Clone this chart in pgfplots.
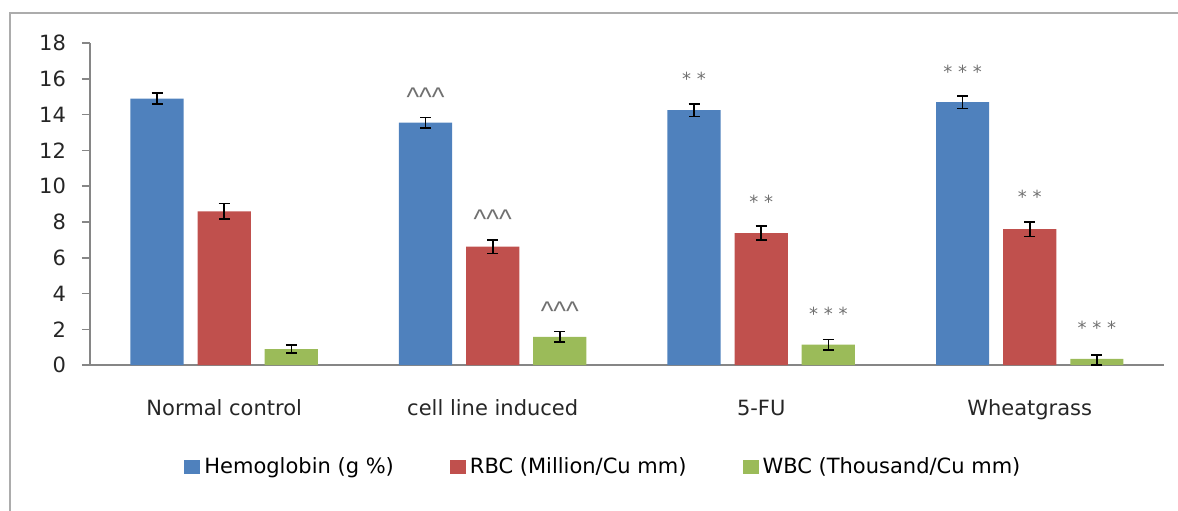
\documentclass[border=0pt]{standalone}
\usepackage{fontspec}
\setmainfont{DejaVu Sans}
\newfontfamily\libsans{Liberation Sans}
\usepackage{pgfplots}
\pgfplotsset{compat=1.18}
\definecolor{cblue}{HTML}{4F81BD}
\definecolor{cred}{HTML}{C0504D}
\definecolor{cgreen}{HTML}{9BBB59}
\definecolor{axgray}{HTML}{868686}
\definecolor{anngray}{HTML}{707070}
\tikzset{
  ann/.style={font=\fontsize{9}{10}\selectfont, text=anngray},
  car/.style={font=\libsans\fontsize{13.5}{13.5}\selectfont, text=anngray},
}
\begin{document}
\begin{tikzpicture}[x=1pt,y=1pt]
\begin{axis}[
  at={(33.5,81)}, anchor=south west,
  scale only axis, width=537pt, height=161pt,
  xmin=-0.5, xmax=3.5, ymin=0, ymax=18,
  ytick={0,2,...,18},
  xtick={0,1,2,3},
  xticklabels={Normal control, cell line induced, 5-FU, Wheatgrass},
  axis x line*=bottom, axis y line*=left,
  axis line style={axgray, line width=0.8pt},
  x axis line style={-}, y axis line style={-},
  major x tick style={draw=none},
  major y tick style={axgray, line width=0.8pt},
  tick align=outside, major tick length=4pt,
  font=\fontsize{10.5}{12}\selectfont,
  /pgf/number format/assume math mode=true,
  x tick label style={anchor=base, yshift=-21pt, text=black!85},
  y tick label style={text=black!85, xshift=-4.5pt},
  every axis plot/.append style={draw=none},
  legend style={at={(0.479,-0.3168)}, anchor=center, draw=none,
    legend columns=3, font=\fontsize{10.5}{12}\selectfont,
    /tikz/every even column/.append style={column sep=26pt},
    /tikz/every odd column/.append style={column sep=0pt}},
  legend image code/.code={\fill[#1] (0pt,-3.5pt) rectangle (8pt,3.5pt);},
]
\addplot[ybar, bar width=0.198, bar shift=0, fill=cblue,
  error bars/.cd, y dir=both, y explicit,
  error bar style={black, line width=0.8pt},
  error mark options={rotate=90, mark size=2.75pt, black, line width=0.8pt}]
  table[x=x, y=y, y error plus=ep, y error minus=em] {
x y ep em
-0.25 14.9 0.3 0.3
0.75 13.55 0.3 0.3
1.75 14.25 0.35 0.35
2.75 14.7 0.35 0.35
};
\addlegendentry{Hemoglobin (g \%)}
\addplot[ybar, bar width=0.198, bar shift=0, fill=cred,
  error bars/.cd, y dir=both, y explicit,
  error bar style={black, line width=0.8pt},
  error mark options={rotate=90, mark size=2.75pt, black, line width=0.8pt}]
  table[x=x, y=y, y error plus=ep, y error minus=em] {
x y ep em
0 8.6 0.44 0.44
1 6.62 0.38 0.38
2 7.38 0.4 0.4
3 7.6 0.4 0.4
};
\addlegendentry{RBC (Million/Cu mm)}
\addplot[ybar, bar width=0.198, bar shift=0, fill=cgreen,
  error bars/.cd, y dir=both, y explicit,
  error bar style={black, line width=0.8pt},
  error mark options={rotate=90, mark size=2.75pt, black, line width=0.8pt}]
  table[x=x, y=y, y error plus=ep, y error minus=em] {
x y ep em
0.25 0.9 0.22 0.22
1.25 1.58 0.3 0.3
2.25 1.14 0.3 0.3
3.25 0.35 0.2 0.35
};
\addlegendentry{WBC (Thousand/Cu mm)}
\node[car] at (axis cs:0.75,15.0) {\textasciicircum\textasciicircum\textasciicircum};
\node[car] at (axis cs:1,8.13) {\textasciicircum\textasciicircum\textasciicircum};
\node[car] at (axis cs:1.25,3.04) {\textasciicircum\textasciicircum\textasciicircum};
\node[ann] at (axis cs:1.75,15.98) {* *};
\node[ann] at (axis cs:2,9.11) {* *};
\node[ann] at (axis cs:2.25,2.85) {* * *};
\node[ann] at (axis cs:2.75,16.42) {* * *};
\node[ann] at (axis cs:3,9.39) {* *};
\node[ann] at (axis cs:3.25,2.07) {* * *};
\end{axis}
\draw[gray!65, line width=1pt] (4.75,-10) -- (4.75,248.5) -- (600,248.5);
\pgfresetboundingbox
\useasboundingbox (0,0) rectangle (589,255);
\end{tikzpicture}
\end{document}
